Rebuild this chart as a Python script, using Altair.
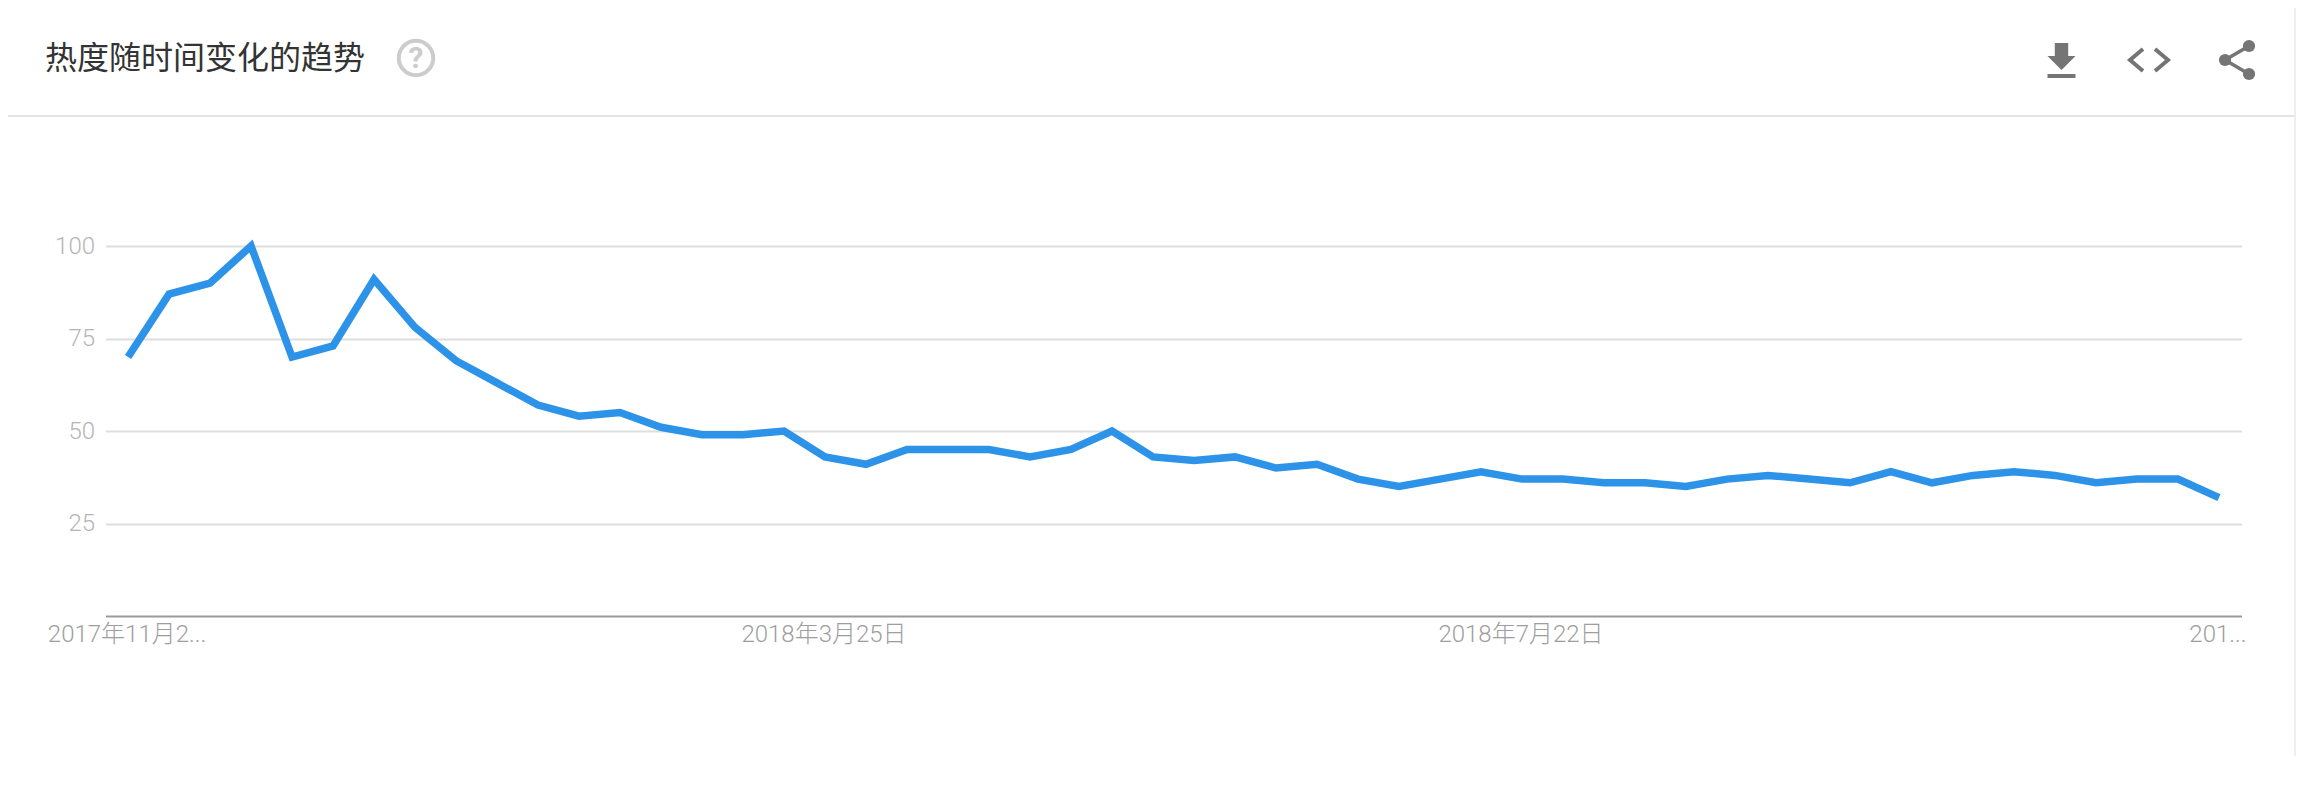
import json
import altair as alt
import pandas as pd

weeks = [
    "2017年11月26日", "2017年12月3日", "2017年12月10日", "2017年12月17日", "2017年12月24日", "2017年12月31日",
    "2018年1月7日", "2018年1月14日", "2018年1月21日", "2018年1月28日",
    "2018年2月4日", "2018年2月11日", "2018年2月18日", "2018年2月25日",
    "2018年3月4日", "2018年3月11日", "2018年3月18日", "2018年3月25日",
    "2018年4月1日", "2018年4月8日", "2018年4月15日", "2018年4月22日", "2018年4月29日",
    "2018年5月6日", "2018年5月13日", "2018年5月20日", "2018年5月27日",
    "2018年6月3日", "2018年6月10日", "2018年6月17日", "2018年6月24日",
    "2018年7月1日", "2018年7月8日", "2018年7月15日", "2018年7月22日", "2018年7月29日",
    "2018年8月5日", "2018年8月12日", "2018年8月19日", "2018年8月26日",
    "2018年9月2日", "2018年9月9日", "2018年9月16日", "2018年9月23日", "2018年9月30日",
    "2018年10月7日", "2018年10月14日", "2018年10月21日", "2018年10月28日",
    "2018年11月4日", "2018年11月11日", "2018年11月18日",
]
interest = [
    70, 87, 90, 100, 70, 73, 91, 78, 69, 63, 57, 54, 55, 51, 49, 49, 50, 43, 41, 45,
    45, 45, 43, 45, 50, 43, 42, 43, 40, 41, 37, 35, 37, 39, 37, 37, 36, 36, 35, 37,
    38, 37, 36, 39, 36, 38, 39, 38, 36, 37, 37, 32,
]
tick_dates = ["2017年11月26日", "2018年3月25日", "2018年7月22日", "2018年11月18日"]
tick_labels = ["2017年11月2...", "2018年3月25日", "2018年7月22日", "201..."]
y_ticks = [25, 50, 75, 100]
title_text = "热度随时间变化的趋势"

FONT = "Roboto, 'Noto Sans CJK SC', sans-serif"
CJK = "'Noto Sans CJK SC', sans-serif"
PLOT_LEFT = 105.5
PLOT_TOP = 246
ICON = "#757575"

label_expr = json.dumps(dict(zip(tick_dates, tick_labels)), ensure_ascii=False) + "[datum.value]"

df = pd.DataFrame({"week": weeks, "interest": interest})

line = alt.Chart(df).mark_line(
    color="#2d93e8", strokeWidth=7.5, strokeJoin="miter", strokeCap="butt", clip=False
).encode(
    x=alt.X(
        "week:N", sort=None, title=None,
        scale=alt.Scale(type="point", padding=0.55),
        axis=alt.Axis(
            values=tick_dates, labelExpr=label_expr, labelAngle=0, labelAlign="center",
            labelBaseline="top", labelPadding=6, labelFontSize=24, labelFont=FONT,
            labelFontWeight=300, labelColor="#9e9e9e", labelOverlap=False, labelBound=False,
            labelLimit=0, labelOffset=-1.5, ticks=False, domainColor="#9a9a9a", domainWidth=2, grid=False,
        ),
    ),
    y=alt.Y(
        "interest:Q", title=None,
        scale=alt.Scale(domain=[0, 100], nice=False, zero=True),
        axis=alt.Axis(
            values=y_ticks, labelPadding=11, labelFontSize=24, labelFont=FONT,
            labelFontWeight=300, labelColor="#b5b5b5", ticks=False, domain=False,
            grid=True, gridColor="#dedede", gridWidth=2,
        ),
    ),
)

blank = alt.Data(values=[{}])


def px(x):
    return alt.value(x - PLOT_LEFT)


def py(y):
    return alt.value(y - PLOT_TOP)


def icon(path, x, y, filled=True, stroke_w=0):
    kw = dict(shape=path, size=1600, opacity=1, filled=filled)
    if filled:
        kw.update(fill=ICON, strokeWidth=0)
    else:
        kw.update(stroke=ICON, strokeWidth=stroke_w)
    return alt.Chart(blank).mark_point(**kw).encode(x=px(x), y=py(y))


def dot(x, y):
    return alt.Chart(blank).mark_point(
        shape="circle", size=150, filled=True, fill=ICON, opacity=1, strokeWidth=0
    ).encode(x=px(x), y=py(y))


header_rule = alt.Chart(blank).mark_rule(color="#e3e3e3", strokeWidth=2).encode(
    x=px(0), x2=px(2295), y=py(116)
)
edge_rule = alt.Chart(blank).mark_rule(color="#eeeeee", strokeWidth=2).encode(
    x=px(2295), y=py(0), y2=py(785)
)
title = alt.Chart(blank).mark_text(
    text=title_text, font=CJK, fontSize=32, color="#333333", align="left", baseline="middle"
).encode(x=px(45), y=py(59))
help_ring = alt.Chart(blank).mark_point(
    shape="circle", size=1190, filled=False, stroke="#cccccc", strokeWidth=4, opacity=1
).encode(x=px(416), y=py(58))
help_mark = alt.Chart(blank).mark_text(
    text="?", font=FONT, fontSize=30, fontWeight="bold", color="#cccccc", align="center", baseline="middle"
).encode(x=px(416), y=py(59))

download = icon("M-.335,-.85 L.335,-.85 L.335,-.2 L.7,-.2 L0,.5 L-.7,-.2 L-.335,-.2 Z M-.7,.7 L.7,.7 L.7,.9 L-.7,.9 Z", 2061.5, 60)
code = icon("M-.3,-.55 L-.95,0 L-.3,.55 M.3,-.55 L.95,0 L.3,.55", 2149, 60, filled=False, stroke_w=4)
share_lines = icon("M.6,-.7 L-.6,0 L.6,.7", 2237, 60, filled=False, stroke_w=3.5)

chart = alt.layer(
    line, header_rule, edge_rule, title, help_ring, help_mark,
    download, code, share_lines, dot(2225, 60), dot(2249, 46), dot(2249, 74),
).properties(
    width=2136, height=370,
    autosize=alt.AutoSizeParams(type="none"),
    padding={"left": 97.5, "top": 238, "right": 54.5, "bottom": 140},
    background="white",
).configure_view(stroke=None)

chart.save("out.html", embed_options={"renderer": "svg", "actions": False})
